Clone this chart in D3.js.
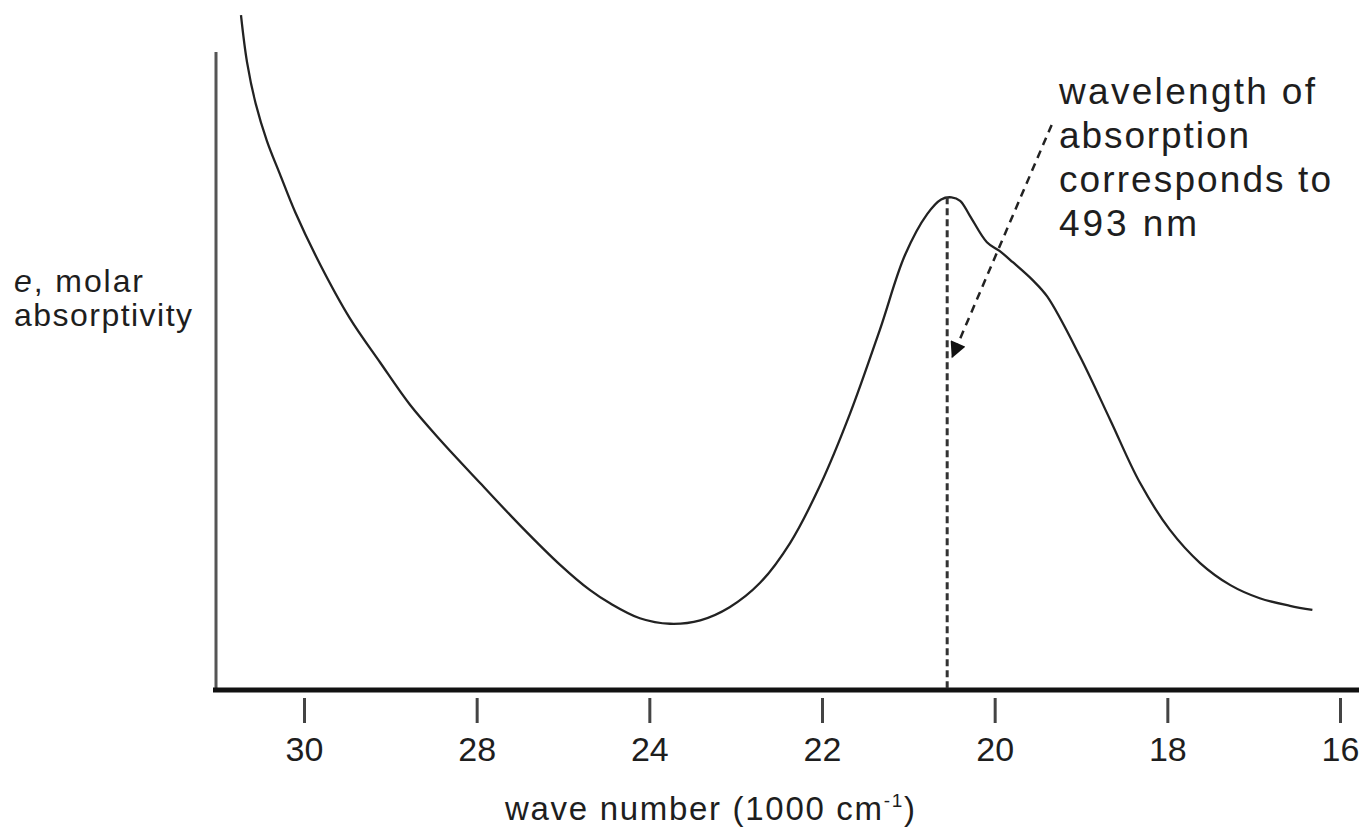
<!DOCTYPE html>
<html>
<head>
<meta charset="utf-8">
<script src="https://cdn.jsdelivr.net/npm/d3@7"></script>
<style>
  body { margin: 0; background: #fff; }
  text { font-family: 'Liberation Sans', Arial, sans-serif; fill: #1e1e1e; }
</style>
</head>
<body>
<svg id="spectrum-svg" width="1359" height="829"></svg>
<script>
// wave number positions (tick spacing of the original) and the labels printed under them
const tickValues = [28, 26, 24, 22, 20, 18, 16];
const tickLabels = ['30', '28', '24', '22', '20', '18', '16'];

// absorption curve (wave number, relative absorptivity)
const waveNumber = [
  28.73, 28.66, 28.56, 28.43, 28.28, 28.1, 27.81, 27.47, 27.12, 26.77, 26.42,
  25.96, 25.5, 25.03, 24.69, 24.46, 24.11, 23.76, 23.41, 23.07, 22.72,
  22.37, 22.02, 21.68, 21.33, 21.04, 20.78, 20.62, 20.5, 20.4, 20.29, 20.09,
  19.94, 19.79, 19.56, 19.39, 19.01, 18.66, 18.32, 17.97, 17.62, 17.27,
  16.93, 16.58, 16.32,
];
const absorptivity = [
  97.8, 91.0, 85.0, 79.6, 74.8, 69.2, 61.6, 53.9, 47.5, 41.3, 36.2,
  30.0, 23.9, 18.1, 14.5, 12.6, 10.4, 9.6, 10.1, 12.0, 15.5,
  21.3, 29.7, 39.9, 52.2, 63.0, 69.0, 71.1, 71.4, 70.9, 68.8, 64.9,
  63.6, 62.0, 59.4, 57.0, 48.3, 39.1, 30.1, 23.2, 18.4, 15.2,
  13.3, 12.2, 11.6,
];

// peak marker and annotation arrow (start, end) in data units
const peakWave = 20.55;
const arrowWave = [19.34, 20.49];
const arrowValue = [81.9, 48.3];

const noteLines = ['wavelength of', 'absorption', 'corresponds to', '493 nm'];
const yLabelLines = ['molar', 'absorptivity'];

const svg = d3.select('#spectrum-svg');

const x = d3.scaleLinear().domain([28, 16]).range([304, 1340]);
const y = d3.scaleLinear().domain([0, 100]).range([690, 0]);

const points = waveNumber.map((w, i) => [w, absorptivity[i]]);

// arrow head for the annotation
svg
  .append('defs')
  .append('marker')
  .attr('id', 'arrow-note')
  .attr('viewBox', [0, 0, 10, 10])
  .attr('refX', 9)
  .attr('refY', 5)
  .attr('markerUnits', 'userSpaceOnUse')
  .attr('markerWidth', 18)
  .attr('markerHeight', 16)
  .attr('orient', 'auto')
  .append('path')
  .attr('d', 'M 0 0 L 10 5 L 0 10 z')
  .attr('fill', '#111');

// y axis (no ticks)
svg
  .append('line')
  .attr('x1', 216)
  .attr('x2', 216)
  .attr('y1', 52)
  .attr('y2', y(0))
  .attr('stroke', '#555')
  .attr('stroke-width', 3);

// x axis
const xAxis = d3
  .axisBottom(x)
  .tickValues(tickValues)
  .tickFormat((d, i) => tickLabels[i])
  .tickSizeOuter(0);

const gx = svg
  .append('g')
  .attr('transform', `translate(0,${y(0)})`)
  .call(xAxis);

gx.select('.domain').remove();
gx.selectAll('.tick line')
  .attr('y1', 8)
  .attr('y2', 33)
  .attr('stroke', '#444')
  .attr('stroke-width', 3);
gx.selectAll('.tick text')
  .attr('y', 71)
  .attr('dy', null)
  .style('font-size', '34px')
  .style('font-family', "'Liberation Sans', Arial, sans-serif")
  .attr('fill', '#1e1e1e');

svg
  .append('line')
  .attr('x1', 213)
  .attr('x2', 1359)
  .attr('y1', y(0))
  .attr('y2', y(0))
  .attr('stroke', '#111')
  .attr('stroke-width', 5);

// axis title with superscript
const xTitle = svg
  .append('text')
  .attr('x', 505)
  .attr('y', 820)
  .attr('textLength', 410)
  .attr('lengthAdjust', 'spacing')
  .style('font-size', '33px');
xTitle.append('tspan').text('wave number (1000 cm');
xTitle.append('tspan').attr('dy', -13).style('font-size', '19px').text('-1');
xTitle.append('tspan').attr('dy', 13).text(')');

// y label
const yLab = svg
  .append('text')
  .attr('x', 14)
  .attr('y', 292)
  .attr('textLength', 129)
  .attr('lengthAdjust', 'spacing')
  .style('font-size', '32px');
yLab.append('tspan').style('font-style', 'italic').text('e');
yLab.append('tspan').text(', ' + yLabelLines[0]);

svg
  .append('text')
  .attr('x', 14)
  .attr('y', 326)
  .attr('textLength', 178)
  .attr('lengthAdjust', 'spacing')
  .style('font-size', '32px')
  .text(yLabelLines[1]);

// spectrum curve
const line = d3
  .line()
  .x((d) => x(d[0]))
  .y((d) => y(d[1]))
  .curve(d3.curveCatmullRom.alpha(0.5));

svg
  .append('path')
  .datum(points)
  .attr('d', line)
  .attr('fill', 'none')
  .attr('stroke', '#222')
  .attr('stroke-width', 2.3);

// dotted line from the peak down to the axis
svg
  .append('line')
  .attr('x1', x(peakWave))
  .attr('x2', x(peakWave))
  .attr('y1', y(d3.max(absorptivity.slice(20))))
  .attr('y2', y(0))
  .attr('stroke', '#333')
  .attr('stroke-width', 3)
  .attr('stroke-dasharray', '7,4');

// dashed annotation arrow
svg
  .append('line')
  .attr('x1', x(arrowWave[0]))
  .attr('y1', y(arrowValue[0]))
  .attr('x2', x(arrowWave[1]))
  .attr('y2', y(arrowValue[1]))
  .attr('stroke', '#222')
  .attr('stroke-width', 2.5)
  .attr('stroke-dasharray', '8,6')
  .attr('marker-end', 'url(#arrow-note)');

// annotation text
const noteWidths = [256, 190, 272, 138];
svg
  .append('g')
  .selectAll('text')
  .data(noteLines)
  .join('text')
  .attr('x', 1059)
  .attr('y', (d, i) => 104 + i * 44)
  .attr('textLength', (d, i) => noteWidths[i])
  .attr('lengthAdjust', 'spacing')
  .style('font-size', '37px')
  .text((d) => d);
</script>
</body>
</html>
